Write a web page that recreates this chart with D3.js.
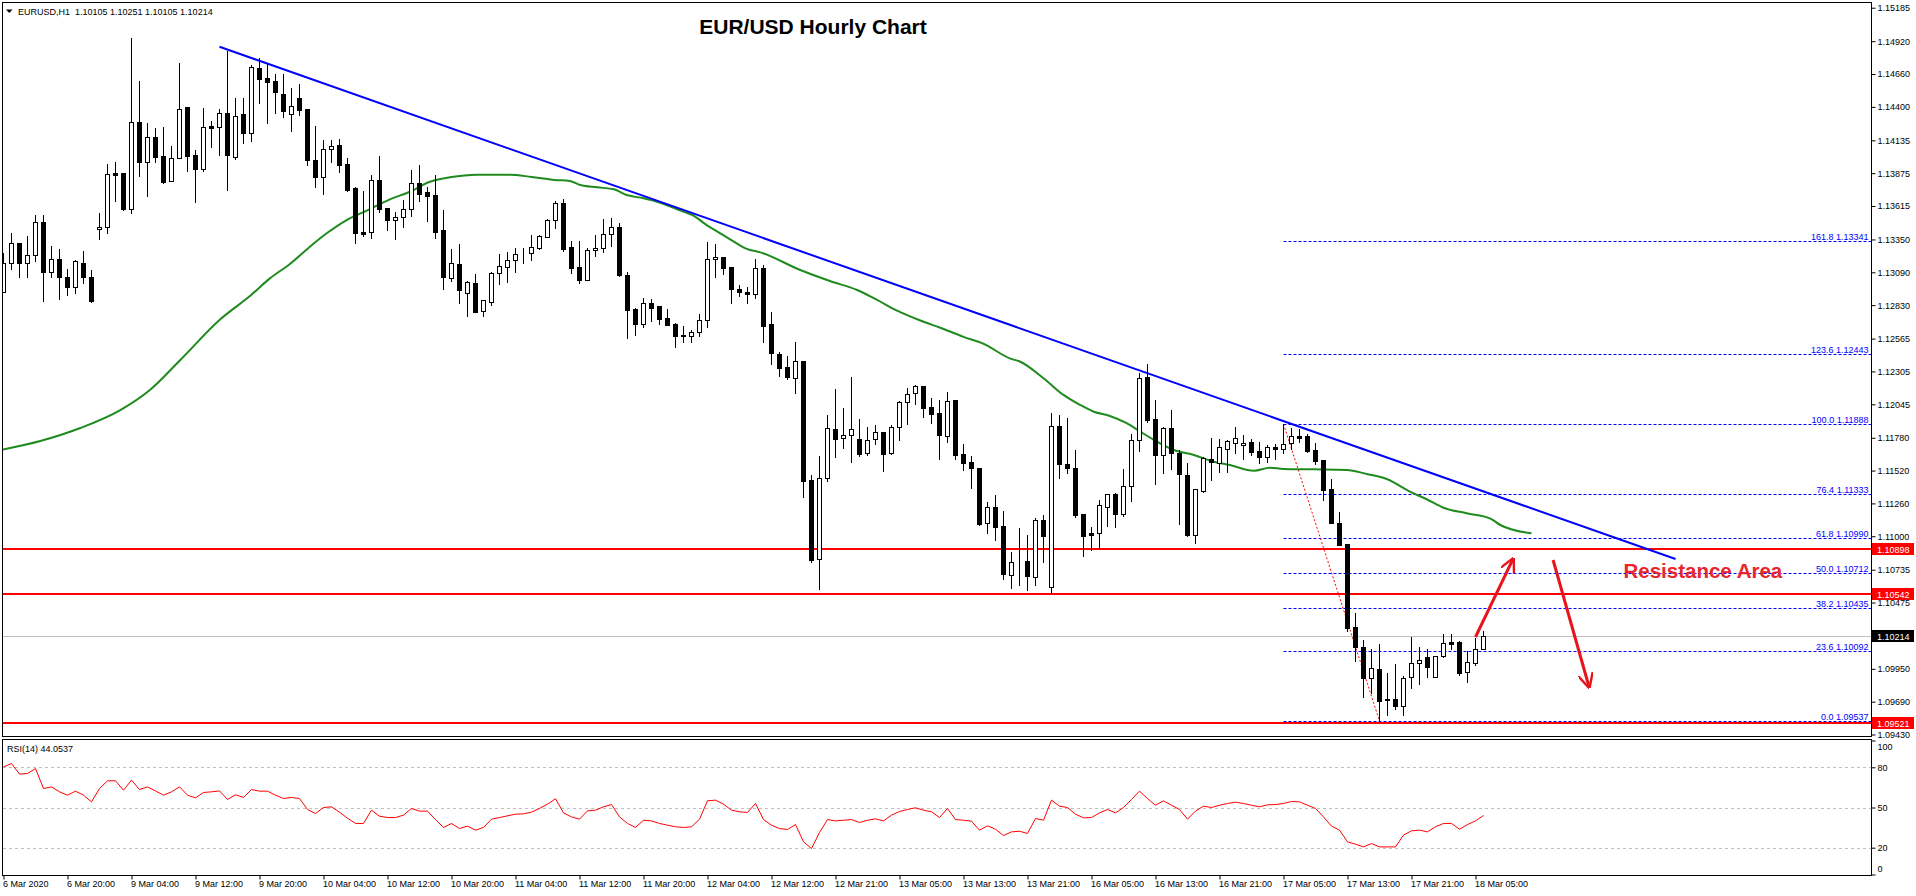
<!DOCTYPE html>
<html>
<head>
<meta charset="utf-8">
<script src="https://cdn.jsdelivr.net/npm/d3@7"></script>
<style>
  body { margin: 0; background: #fff; }
  svg text { font-family: "Liberation Sans", Arial, sans-serif; }
</style>
</head>
<body>
<div id="chart"></div>
<script>
// hourly EUR/USD bars, 6 Mar 12:00 -> 18 Mar 06:00
var openP = [1.12936,1.13161,1.13320,1.13161,1.13225,1.13486,1.13095,1.13193,1.13050,1.12976,1.13166,1.13055,
  1.13430,1.13451,1.13874,1.13874,1.13594,1.14278,1.13966,1.14159,1.14011,1.13811,1.13993,1.14396,1.14016,1.13906,
  1.14246,1.14243,1.14349,1.14001,1.14341,1.14190,1.14705,1.14626,1.14602,1.14502,1.14341,1.14468,1.14383,1.13979,
  1.13847,1.14064,1.14098,1.13947,1.13757,1.13407,1.13411,1.13818,1.13597,1.13506,1.13530,1.13594,1.13795,1.13723,
  1.13702,1.13423,1.13047,1.13153,1.12928,1.13003,1.12786,1.12857,1.13082,1.13134,1.13185,1.13240,1.13243,1.13285,
  1.13367,1.13502,1.13636,1.13288,1.13129,1.13031,1.13264,1.13285,1.13391,1.13446,1.13066,1.12799,1.12683,1.12845,
  1.12821,1.12728,1.12678,1.12594,1.12583,1.12615,1.12710,1.13193,1.13209,1.13129,1.12955,1.12932,1.12920,1.13124,
  1.12681,1.12441,1.12338,1.12255,1.12388,1.11445,1.10818,1.11459,1.11847,1.11776,1.11799,1.11768,1.11662,1.11768,
  1.11823,1.11657,1.11863,1.12061,1.12132,1.12187,1.12021,1.11973,1.11796,1.12076,1.11651,1.11585,1.11538,1.11103,
  1.11229,1.11079,1.10693,1.10802,1.10804,1.10680,1.11126,1.10598,1.11871,1.11572,1.11538,1.11174,1.11023,1.11023,
  1.11234,1.11335,1.11179,1.11396,1.11760,1.12259,1.11928,1.11646,1.11855,1.11662,1.11483,1.11012,1.11361,1.11609,
  1.11582,1.11693,1.11736,1.11720,1.11744,1.11673,1.11630,1.11704,1.11688,1.11736,1.11796,1.11794,1.11683,1.11604,
  1.11374,1.11105,1.10941,1.10279,1.10123,1.09880,1.09949,1.09711,1.09711,1.09658,1.09883,1.09999,1.10042,1.09883,
  1.10054,1.10160,1.10163,1.09923,1.09999,1.10105];
var highP = [1.13240,1.13399,1.13320,1.13377,1.13541,1.13541,1.13298,1.13272,1.13114,1.13187,1.13256,1.13108,
  1.13557,1.13947,1.13963,1.13874,1.14945,1.14605,1.14270,1.14230,1.14238,1.14090,1.14747,1.14396,1.14058,1.14391,
  1.14290,1.14383,1.14842,1.14470,1.14470,1.14731,1.14784,1.14739,1.14660,1.14660,1.14547,1.14581,1.14383,1.14248,
  1.14138,1.14138,1.14145,1.13995,1.13763,1.13734,1.13860,1.14011,1.13597,1.13565,1.13662,1.13900,1.13937,1.13768,
  1.13858,1.13583,1.13272,1.13314,1.13021,1.13074,1.12868,1.13095,1.13235,1.13251,1.13280,1.13280,1.13383,1.13383,
  1.13510,1.13654,1.13668,1.13338,1.13338,1.13285,1.13383,1.13512,1.13520,1.13483,1.13090,1.12805,1.12886,1.12879,
  1.12821,1.12797,1.12686,1.12665,1.12633,1.12757,1.13330,1.13314,1.13209,1.13129,1.12987,1.12971,1.13193,1.13148,
  1.12773,1.12459,1.12427,1.12538,1.12388,1.11485,1.11635,1.11960,1.12166,1.12015,1.12259,1.11928,1.11865,1.11881,
  1.11823,1.11881,1.12071,1.12174,1.12200,1.12192,1.12095,1.12076,1.12140,1.12076,1.11730,1.11638,1.11538,1.11274,
  1.11327,1.11200,1.10875,1.11063,1.11010,1.11142,1.11166,1.11976,1.11960,1.11936,1.11681,1.11174,1.11071,1.11287,
  1.11332,1.11345,1.11533,1.11810,1.12290,1.12364,1.12079,1.11867,1.11999,1.11683,1.11582,1.11372,1.11625,1.11778,
  1.11770,1.11765,1.11865,1.11800,1.11770,1.11750,1.11723,1.11728,1.11888,1.11857,1.11849,1.11807,1.11736,1.11604,
  1.11453,1.11190,1.10941,1.10390,1.10179,1.10107,1.10147,1.09915,1.09986,1.09893,1.10200,1.10121,1.10107,1.10052,
  1.10222,1.10222,1.10168,1.10094,1.10197,1.10251];
var lowP = [1.12934,1.13114,1.13050,1.13050,1.13177,1.12865,1.13050,1.12876,1.12908,1.12928,1.13003,1.12857,
  1.13356,1.13399,1.13657,1.13583,1.13557,1.13855,1.13696,1.13966,1.13799,1.13811,1.13993,1.13894,1.13649,1.13894,
  1.14084,1.14021,1.13744,1.13985,1.14116,1.14132,1.14428,1.14270,1.14354,1.14322,1.14211,1.14338,1.13940,1.13763,
  1.13712,1.13966,1.13887,1.13736,1.13320,1.13380,1.13364,1.13570,1.13425,1.13354,1.13451,1.13536,1.13657,1.13496,
  1.13364,1.12960,1.13023,1.12845,1.12744,1.12778,1.12746,1.12831,1.13000,1.13013,1.13095,1.13161,1.13187,1.13277,
  1.13367,1.13438,1.13259,1.13087,1.13008,1.13031,1.13219,1.13253,1.13300,1.13061,1.12572,1.12596,1.12659,1.12708,
  1.12681,1.12675,1.12501,1.12540,1.12540,1.12588,1.12659,1.13055,1.13074,1.12849,1.12902,1.12849,1.12889,1.12536,
  1.12364,1.12269,1.12243,1.12137,1.11313,1.10798,1.10580,1.11440,1.11630,1.11701,1.11590,1.11638,1.11646,1.11733,
  1.11517,1.11651,1.11762,1.11891,1.12047,1.11944,1.11899,1.11614,1.11749,1.11614,1.11525,1.11382,1.11089,1.11028,
  1.10970,1.10659,1.10590,1.10614,1.10574,1.10614,1.10798,1.10551,1.11463,1.11498,1.11155,1.10846,1.10891,1.10905,
  1.11084,1.11076,1.11163,1.11282,1.11677,1.11902,1.11416,1.11503,1.11533,1.11095,1.11004,1.10944,1.11353,1.11445,
  1.11511,1.11511,1.11662,1.11614,1.11641,1.11577,1.11590,1.11609,1.11657,1.11688,1.11749,1.11669,1.11572,1.11287,
  1.11103,1.10933,1.10250,1.10015,1.09730,1.09761,1.09537,1.09582,1.09635,1.09582,1.09801,1.09833,1.09888,1.09883,
  1.10046,1.10110,1.09899,1.09848,1.09984,1.10105];
var closeP = [1.13161,1.13320,1.13161,1.13225,1.13486,1.13095,1.13193,1.13050,1.12976,1.13177,1.13055,1.12865,
  1.13451,1.13866,1.13863,1.13591,1.14278,1.13966,1.14159,1.14001,1.13805,1.13993,1.14381,1.14013,1.13910,1.14238,
  1.14235,1.14349,1.14021,1.14330,1.14190,1.14713,1.14623,1.14599,1.14515,1.14370,1.14404,1.14377,1.13982,1.13847,
  1.14064,1.14088,1.13942,1.13742,1.13404,1.13396,1.13818,1.13594,1.13506,1.13525,1.13594,1.13795,1.13712,1.13696,
  1.13411,1.13055,1.13161,1.12952,1.13011,1.12778,1.12868,1.13082,1.13137,1.13185,1.13233,1.13243,1.13288,1.13375,
  1.13502,1.13636,1.13274,1.13126,1.13031,1.13264,1.13285,1.13391,1.13446,1.13069,1.12794,1.12683,1.12845,1.12810,
  1.12723,1.12675,1.12588,1.12583,1.12615,1.12710,1.13193,1.13209,1.13126,1.12955,1.12932,1.12920,1.13122,1.12667,
  1.12449,1.12335,1.12263,1.12388,1.11440,1.10812,1.11459,1.11855,1.11772,1.11799,1.11847,1.11651,1.11760,1.11823,
  1.11654,1.11863,1.12061,1.12129,1.12187,1.12018,1.11970,1.11804,1.12068,1.11646,1.11582,1.11543,1.11095,1.11229,
  1.11076,1.10699,1.10798,1.10800,1.10685,1.11126,1.11004,1.11871,1.11570,1.11538,1.11171,1.11004,1.11012,1.11245,
  1.11332,1.11179,1.11396,1.11760,1.12251,1.11923,1.11646,1.11855,1.11662,1.11490,1.11010,1.11372,1.11620,1.11585,
  1.11704,1.11752,1.11776,1.11742,1.11669,1.11630,1.11704,1.11688,1.11733,1.11794,1.11780,1.11675,1.11598,1.11369,
  1.11103,1.10933,1.10276,1.10125,1.09880,1.09957,1.09698,1.09703,1.09658,1.09878,1.09994,1.10020,1.09967,1.10052,
  1.10152,1.10149,1.09915,1.10002,1.10105,1.10214];

// RSI(14), one value per bar
var rsiValues = [80.3,82.8,74.9,75.4,79.1,64.2,65.4,61.7,59.2,62.2,59.2,54.2,64.2,69.9,69.9,62.9,70.4,63.4,65.4,62.4,
  59.2,61.7,65.4,59.2,57.2,61.2,61.7,62.4,56.0,59.5,57.5,63.4,62.2,62.2,59.2,56.7,57.5,56.7,48.5,45.5,
  50.0,50.5,46.5,42.0,38.1,38.1,48.0,43.5,42.5,42.5,44.3,49.3,47.3,47.3,41.0,35.1,38.1,34.3,36.1,33.1,
  35.1,41.3,42.5,43.8,45.0,45.3,46.5,49.3,52.5,56.5,46.0,43.0,41.3,47.5,48.0,50.5,52.2,43.0,38.1,35.1,
  40.5,40.0,38.1,36.8,35.6,35.1,35.6,41.2,55.0,55.5,52.5,48.0,46.8,46.3,53.0,41.0,36.8,34.3,33.6,37.3,
  24.4,19.4,31.3,41.0,40.0,40.5,41.0,38.8,40.5,41.5,40.0,44.3,47.0,48.5,49.8,48.0,46.8,42.5,49.3,41.0,
  40.5,39.8,33.1,36.3,33.8,29.1,31.8,32.3,30.6,41.8,40.5,55.5,51.0,50.0,45.0,42.3,42.5,46.0,48.5,46.0,
  50.0,56.0,62.2,56.7,51.7,55.0,51.7,48.5,41.3,47.3,51.0,50.0,51.7,53.0,54.0,53.0,51.7,50.5,52.0,52.2,
  53.0,54.5,54.2,51.7,49.3,43.0,36.1,33.1,24.4,22.6,20.6,23.1,20.6,20.6,20.6,29.4,32.6,33.1,31.8,35.6,
  38.1,38.1,33.8,37.3,40.0,44.05];

// moving average (green), read at bar positions
var maBars = [-0.4,4.6,9.6,14.6,18.3,22.1,27.1,30.8,33.3,35.8,38.3,40.4,42.9,45.4,48.3,50.8,53.3,55.8,59.2,63.3,
  66,68.9,70.8,72.1,74.2,76.3,77.9,80,82.1,84.2,86.3,87.9,89.6,91.3,92.9,94.6,99.6,103.3,106.7,109.2,
  111.7,114.6,117.1,120,122.5,125.8,127.1,130,132.5,134.6,136.3,138.3,140.4,142.1,144.2,146.3,148.8,151.3,153.3,156.3,
  158.3,160,163.8,167.9,170.4,172.9,175.8,177.9,180,182.9,185.8,187.1,191];
var maValues = [1.11683,1.11754,1.11857,1.11999,1.12158,1.12396,1.12718,1.12902,1.13042,1.13156,1.13293,1.13399,1.13504,1.13578,
  1.13668,1.13728,1.13807,1.13842,1.13863,1.13863,1.13845,1.13821,1.13813,1.13781,1.13763,1.13747,1.13702,1.13676,1.13641,
  1.13589,1.13536,1.13464,1.13399,1.13333,1.13275,1.13248,1.13108,1.13021,1.12950,1.12871,1.12786,1.12708,1.12651,1.12579,
  1.12524,1.12408,1.12382,1.12251,1.12119,1.12039,1.11986,1.11952,1.11895,1.11828,1.11749,1.11683,1.11643,1.11590,1.11564,
  1.11519,1.11543,1.11533,1.11530,1.11525,1.11493,1.11453,1.11353,1.11293,1.11226,1.11182,1.11142,1.11089,1.11023];

var priceTicks = [1.15185,1.14920,1.14660,1.14400,1.14135,1.13875,1.13615,1.13350,1.13090,1.12830,1.12565,1.12305,
  1.12045,1.11780,1.11520,1.11260,1.11000,1.10735,1.10475,1.09950,1.09690,1.09430];
var timeTickBars = [0,8,16,24,32,40,48,56,64,72,80,88,96,104,112,120,128,136,144,152,160,168,176,184];
var timeLabels = ["6 Mar 2020","6 Mar 20:00","9 Mar 04:00","9 Mar 12:00","9 Mar 20:00","10 Mar 04:00","10 Mar 12:00",
  "10 Mar 20:00","11 Mar 04:00","11 Mar 12:00","11 Mar 20:00","12 Mar 04:00","12 Mar 12:00","12 Mar 21:00",
  "13 Mar 05:00","13 Mar 13:00","13 Mar 21:00","16 Mar 05:00","16 Mar 13:00","16 Mar 21:00","17 Mar 05:00",
  "17 Mar 13:00","17 Mar 21:00","18 Mar 05:00"];

var fibLevels = ["161.8","123.6","100.0","76.4","61.8","50.0","38.2","23.6","0.0"];
var fibPrices = [1.13341,1.12443,1.11888,1.11333,1.10990,1.10712,1.10435,1.10092,1.09537];
var fibStartBar = 160;
var redLevels = [1.10898,1.10542,1.09521];
var lastPrice = 1.10214;
var rsiLevels = [80,50,20];
var rsiTicks = [100,80,50,20,0];

var trendBars = [27,209], trendPrices = [1.14876,1.10820];
var swingBars = [160,172], swingPrices = [1.11888,1.09537];
var upArrowBars = [184,188.7], upArrowPrices = [1.10202,1.10820];
var downArrowBars = [193.7,198.2], downArrowPrices = [1.10812,1.09806];
var resistLabel = {bar: 202.5, price: 1.10673, text: "Resistance Area"};

var W = 1916, H = 896;
var plotRight = 1871.5;

var svg = d3.select("#chart").append("svg")
    .attr("width", W)
    .attr("height", H);

var x = d3.scaleLinear().domain([0, 185]).range([3.5, 1483.5]);
var y = d3.scaleLinear().domain([1.09537, 1.13341]).range([721, 240.6]);
var yR = d3.scaleLinear().domain([0, 100]).range([874.5, 740.5]);

var defs = svg.append("defs");
defs.append("clipPath").attr("id", "mainClip")
  .append("rect").attr("x", 2.5).attr("y", 2.5).attr("width", plotRight - 2.5).attr("height", 735);
defs.append("clipPath").attr("id", "rsiClip")
  .append("rect").attr("x", 2.5).attr("y", 739.5).attr("width", plotRight - 2.5).attr("height", 136);
defs.append("marker").attr("id", "head").attr("viewBox", "0 0 10 10")
    .attr("refX", 9).attr("refY", 5).attr("markerWidth", 5).attr("markerHeight", 5)
    .attr("orient", "auto")
  .append("path").attr("d", "M0,0 L10,5 L0,10").attr("fill", "none")
    .attr("stroke", "#e8141b").attr("stroke-width", 1.6);

// main panel
var main = svg.append("g").attr("clip-path", "url(#mainClip)");

// horizontal support/resistance lines
main.selectAll(".red").data(redLevels).enter().append("line")
    .attr("x1", 2).attr("x2", plotRight)
    .attr("y1", function(d) { return y(d); })
    .attr("y2", function(d) { return y(d); })
    .attr("stroke", "#ff0000").attr("stroke-width", 2);

// last price line
main.append("line")
    .attr("x1", 2).attr("x2", plotRight)
    .attr("y1", Math.round(y(lastPrice)) + 0.5).attr("y2", Math.round(y(lastPrice)) + 0.5)
    .attr("stroke", "#c0c0c0").attr("stroke-width", 1);

// fibonacci levels
main.selectAll(".fib").data(fibPrices).enter().append("line")
    .attr("x1", x(fibStartBar)).attr("x2", plotRight)
    .attr("y1", function(d) { return Math.round(y(d)) + 0.5; })
    .attr("y2", function(d) { return Math.round(y(d)) + 0.5; })
    .attr("stroke", "#0000ff").attr("stroke-width", 1)
    .attr("stroke-dasharray", "3,2");
main.selectAll(".fibText").data(fibPrices).enter().append("text")
    .attr("x", plotRight - 3)
    .attr("y", function(d) { return Math.round(y(d)) - 1.5; })
    .attr("text-anchor", "end")
    .attr("font-size", "9px")
    .attr("fill", "#0000ff")
    .text(function(d, i) { return fibLevels[i] + " " + d.toFixed(5); });

// swing line used for the fibonacci
main.append("line")
    .attr("x1", x(swingBars[0])).attr("y1", y(swingPrices[0]))
    .attr("x2", x(swingBars[1])).attr("y2", y(swingPrices[1]))
    .attr("stroke", "#ff0000").attr("stroke-width", 1)
    .attr("stroke-dasharray", "2,2");

// moving average
var maLine = d3.line()
    .x(function(d, i) { return x(maBars[i]); })
    .y(function(d) { return y(d); })
    .curve(d3.curveMonotoneX);
main.append("path")
    .attr("d", maLine(maValues))
    .attr("fill", "none")
    .attr("stroke", "#1f8b1f")
    .attr("stroke-width", 2);

// trend line
main.append("line")
    .attr("x1", x(trendBars[0])).attr("y1", y(trendPrices[0]))
    .attr("x2", x(trendBars[1])).attr("y2", y(trendPrices[1]))
    .attr("stroke", "#0000ff").attr("stroke-width", 2);

// candles
var bars = d3.range(openP.length);
var candle = main.selectAll(".candle").data(bars).enter().append("g");
candle.append("line")
    .attr("x1", function(i) { return x(i); })
    .attr("x2", function(i) { return x(i); })
    .attr("y1", function(i) { return Math.round(y(highP[i])); })
    .attr("y2", function(i) { return Math.round(y(lowP[i])) + 1; })
    .attr("stroke", "#000").attr("stroke-width", 1);
candle.append("rect")
    .attr("x", function(i) { return x(i) - 2; })
    .attr("width", 4)
    .attr("y", function(i) { return Math.round(y(Math.max(openP[i], closeP[i]))) + 0.5; })
    .attr("height", function(i) {
      var h = Math.round(y(Math.min(openP[i], closeP[i]))) - Math.round(y(Math.max(openP[i], closeP[i])));
      return Math.max(h, 0);
    })
    .attr("fill", function(i) { return closeP[i] >= openP[i] ? "#fff" : "#000"; })
    .attr("stroke", "#000").attr("stroke-width", 1);

// annotations
main.append("line")
    .attr("x1", x(upArrowBars[0])).attr("y1", y(upArrowPrices[0]))
    .attr("x2", x(upArrowBars[1])).attr("y2", y(upArrowPrices[1]))
    .attr("stroke", "#e8141b").attr("stroke-width", 3)
    .attr("marker-end", "url(#head)");
main.append("line")
    .attr("x1", x(downArrowBars[0])).attr("y1", y(downArrowPrices[0]))
    .attr("x2", x(downArrowBars[1])).attr("y2", y(downArrowPrices[1]))
    .attr("stroke", "#e8141b").attr("stroke-width", 3)
    .attr("marker-end", "url(#head)");
main.append("text")
    .attr("x", x(resistLabel.bar)).attr("y", y(resistLabel.price))
    .attr("font-size", "20.5px").attr("font-weight", "bold")
    .attr("fill", "#e8262b")
    .text(resistLabel.text);

// title and header
svg.append("text")
    .attr("x", 813).attr("y", 34)
    .attr("text-anchor", "middle")
    .attr("font-size", "21px").attr("font-weight", "bold")
    .text("EUR/USD Hourly Chart");
svg.append("path").attr("d", "M6,9.5 L12.5,9.5 L9.25,13 Z").attr("fill", "#000");
svg.append("text")
    .attr("x", 18).attr("y", 14.5)
    .attr("font-size", "9px")
    .attr("xml:space", "preserve")
    .text("EURUSD,H1  " + [openP[185], highP[185], lowP[185], closeP[185]].map(function(v) { return v.toFixed(5); }).join(" "));

// frames
svg.append("rect").attr("x", 2.5).attr("y", 2.5).attr("width", plotRight - 2.5).attr("height", 734)
    .attr("fill", "none").attr("stroke", "#000");
svg.append("rect").attr("x", 2.5).attr("y", 739.5).attr("width", plotRight - 2.5).attr("height", 136)
    .attr("fill", "none").attr("stroke", "#000");

// price axis
var yAxis = svg.append("g")
    .attr("transform", "translate(" + plotRight + ",0)")
    .call(d3.axisRight(y).tickValues(priceTicks).tickSize(4).tickPadding(2).tickFormat(d3.format(".5f")));
yAxis.select(".domain").remove();
yAxis.selectAll("text").attr("font-size", "9px").attr("fill", "#000")
    .style("font-family", "'Liberation Sans', Arial, sans-serif");

// price tags
function tag(price, bg) {
  var g = svg.append("g").attr("transform", "translate(" + (plotRight + 0.5) + "," + Math.round(y(price)) + ")");
  g.append("rect").attr("x", 0).attr("y", -6).attr("width", 42).attr("height", 12).attr("fill", bg);
  g.append("text").attr("x", 5).attr("y", 3.5).attr("font-size", "9px").attr("fill", "#fff")
    .text(price.toFixed(5));
}
redLevels.forEach(function(p) { tag(p, "#ff0000"); });
tag(lastPrice, "#000");

// RSI panel
var rsiG = svg.append("g").attr("clip-path", "url(#rsiClip)");
rsiG.selectAll(".lvl").data(rsiLevels).enter().append("line")
    .attr("x1", 3).attr("x2", plotRight)
    .attr("y1", function(d) { return Math.round(yR(d)) + 0.5; })
    .attr("y2", function(d) { return Math.round(yR(d)) + 0.5; })
    .attr("stroke", "#c0c0c0").attr("stroke-dasharray", "3,3");
var rsiLine = d3.line()
    .x(function(d, i) { return x(i); })
    .y(function(d) { return yR(d); });
rsiG.append("path")
    .attr("d", rsiLine(rsiValues))
    .attr("fill", "none")
    .attr("stroke", "#ff0000")
    .attr("stroke-width", 1);
svg.append("text")
    .attr("x", 7).attr("y", 752)
    .attr("font-size", "9px")
    .text("RSI(14) " + (44.0537).toFixed(4));

var rAxis = svg.append("g")
    .attr("transform", "translate(" + plotRight + ",0)")
    .call(d3.axisRight(yR).tickValues(rsiTicks).tickSize(4).tickPadding(2));
rAxis.select(".domain").remove();
rAxis.selectAll("text").attr("font-size", "9px").attr("fill", "#000")
    .style("font-family", "'Liberation Sans', Arial, sans-serif")
    .attr("y", function(d) { return d === 100 ? 6 : (d === 0 ? -6 : 0); });

// time axis
var xAxis = svg.append("g")
    .attr("transform", "translate(0,875.5)")
    .call(d3.axisBottom(x).tickValues(timeTickBars).tickSize(4).tickPadding(1)
      .tickFormat(function(d, i) { return timeLabels[i]; }));
xAxis.select(".domain").remove();
xAxis.selectAll("text").attr("font-size", "9px").attr("fill", "#000")
    .attr("text-anchor", "start").attr("x", -1)
    .style("font-family", "'Liberation Sans', Arial, sans-serif");
</script>
</body>
</html>
